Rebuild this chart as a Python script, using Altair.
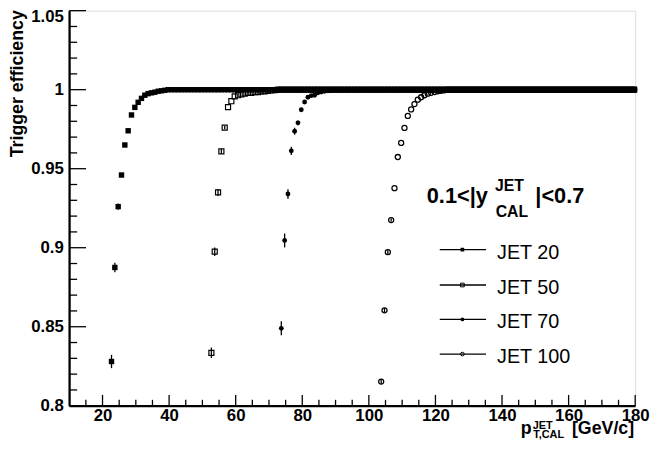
import altair as alt
import pandas as pd

# ---------------- data ----------------
pt_bins = [
    22.7, 23.7, 24.7, 25.7, 26.7, 27.7, 28.7, 29.7, 30.7, 31.7,
    32.7, 33.7, 34.7, 35.7, 36.7, 37.7, 38.7, 39.7, 40.7, 41.7,
    42.7, 43.7, 44.7, 45.7, 46.7, 47.7, 48.7, 49.7, 50.7, 51.7,
    52.7, 53.7, 54.7, 55.7, 56.7, 57.7, 58.7, 59.7, 60.7, 61.7,
    62.7, 63.7, 64.7, 65.7, 66.7, 67.7, 68.7, 69.7, 70.7, 71.7,
    72.7, 73.7, 74.7, 75.7, 76.7, 77.7, 78.7, 79.7, 80.7, 81.7,
    82.7, 83.7, 84.7, 85.7, 86.7, 87.7, 88.7, 89.7, 90.7, 91.7,
    92.7, 93.7, 94.7, 95.7, 96.7, 97.7, 98.7, 99.7, 100.7, 101.7,
    102.7, 103.7, 104.7, 105.7, 106.7, 107.7, 108.7, 109.7, 110.7, 111.7,
    112.7, 113.7, 114.7, 115.7, 116.7, 117.7, 118.7, 119.7, 120.7, 121.7,
    122.7, 123.7, 124.7, 125.7, 126.7, 127.7, 128.7, 129.7, 130.7, 131.7,
    132.7, 133.7, 134.7, 135.7, 136.7, 137.7, 138.7, 139.7, 140.7, 141.7,
    142.7, 143.7, 144.7, 145.7, 146.7, 147.7, 148.7, 149.7, 150.7, 151.7,
    152.7, 153.7, 154.7, 155.7, 156.7, 157.7, 158.7, 159.7, 160.7, 161.7,
    162.7, 163.7, 164.7, 165.7, 166.7, 167.7, 168.7, 169.7, 170.7, 171.7,
    172.7, 173.7, 174.7, 175.7, 176.7, 177.7, 178.7, 179.7,
]

series_names = ["JET 20", "JET 50", "JET 70", "JET 100"]
series_first_bin = [22.7, 52.7, 73.7, 103.7]

jet20_eff = [
    0.828, 0.8875, 0.926, 0.946, 0.965, 0.974, 0.984, 0.9888, 0.992, 0.9945,
    0.9965, 0.9975, 0.998, 0.9984, 0.999, 0.9993, 0.9996,
    1, 1, 1, 1, 1, 1, 1, 1, 1, 1,
    1, 1, 1, 1, 1, 1, 1, 1, 1, 1,
    1, 1, 1, 1, 1, 1, 1, 1, 1, 1,
    1, 1, 1, 1, 1, 1, 1, 1, 1, 1,
    1, 1, 1, 1, 1, 1, 1, 1, 1, 1,
    1, 1, 1, 1, 1, 1, 1, 1, 1, 1,
    1, 1, 1, 1, 1, 1, 1, 1, 1, 1,
    1, 1, 1, 1, 1, 1, 1, 1, 1, 1,
    1, 1, 1, 1, 1, 1, 1, 1, 1, 1,
    1, 1, 1, 1, 1, 1, 1, 1, 1, 1,
    1, 1, 1, 1, 1, 1, 1, 1, 1, 1,
    1, 1, 1, 1, 1, 1, 1, 1, 1, 1,
    1, 1, 1, 1, 1, 1, 1, 1, 1, 1,
    1, 1, 1, 1, 1, 1, 1, 1, 1, 1,
    1,
]
jet20_err = [0.0042, 0.003, 0.002, 0.0012, 0.001, 0.0008]

jet50_eff = [
    0.8335, 0.8975, 0.935, 0.961, 0.976, 0.989, 0.9927, 0.9958, 0.9965, 0.997,
    0.9975, 0.998, 0.998, 0.9985, 0.9985, 0.999, 0.999, 0.9993, 0.9995, 0.9997,
    1, 1, 1, 1, 1, 1, 1, 1, 1, 1,
    1, 1, 1, 1, 1, 1, 1, 1, 1, 1,
    1, 1, 1, 1, 1, 1, 1, 1, 1, 1,
    1, 1, 1, 1, 1, 1, 1, 1, 1, 1,
    1, 1, 1, 1, 1, 1, 1, 1, 1, 1,
    1, 1, 1, 1, 1, 1, 1, 1, 1, 1,
    1, 1, 1, 1, 1, 1, 1, 1, 1, 1,
    1, 1, 1, 1, 1, 1, 1, 1, 1, 1,
    1, 1, 1, 1, 1, 1, 1, 1, 1, 1,
    1, 1, 1, 1, 1, 1, 1, 1, 1, 1,
    1, 1, 1, 1, 1, 1, 1, 1,
]
jet50_err = [0.0033, 0.0027, 0.0022, 0.0014, 0.001]

jet70_eff = [
    0.849, 0.9046, 0.934, 0.9613, 0.9737, 0.979, 0.9873, 0.9922, 0.9952, 0.9962,
    0.9965, 0.998, 0.9985, 0.999, 0.9993, 0.9995,
    1, 1, 1, 1, 1, 1, 1, 1, 1, 1,
    1, 1, 1, 1, 1, 1, 1, 1, 1, 1,
    1, 1, 1, 1, 1, 1, 1, 1, 1, 1,
    1, 1, 1, 1, 1, 1, 1, 1, 1, 1,
    1, 1, 1, 1, 1, 1, 1, 1, 1, 1,
    1, 1, 1, 1, 1, 1, 1, 1, 1, 1,
    1, 1, 1, 1, 1, 1, 1, 1, 1, 1,
    1, 1, 1, 1, 1, 1, 1, 1, 1, 1,
    1, 1, 1, 1, 1, 1, 1, 1, 1, 1,
    1,
]
jet70_err = [0.0044, 0.0044, 0.003, 0.0026, 0.0022, 0.0015]

jet100_eff = [
    0.8153, 0.8604, 0.8972, 0.9175, 0.9377, 0.9574, 0.9663, 0.9758, 0.9834, 0.9875,
    0.9909, 0.9937, 0.9952, 0.9965, 0.9975, 0.998, 0.9985, 0.999, 0.9993, 0.9996,
    1, 1, 1, 1, 1, 1, 1, 1, 1, 1,
    1, 1, 1, 1, 1, 1, 1, 1, 1, 1,
    1, 1, 1, 1, 1, 1, 1, 1, 1, 1,
    1, 1, 1, 1, 1, 1, 1, 1, 1, 1,
    1, 1, 1, 1, 1, 1, 1, 1, 1, 1,
    1, 1, 1, 1, 1, 1, 1,
]
jet100_err = [0.0015, 0.0014, 0.0012, 0.001]

x_major_ticks = [20, 40, 60, 80, 100, 120, 140, 160, 180]
x_minor_ticks = [15, 25, 30, 35, 45, 50, 55, 65, 70, 75, 85, 90, 95, 105, 110,
                 115, 125, 130, 135, 145, 150, 155, 165, 170, 175]
y_major_ticks = [0.8, 0.85, 0.9, 0.95, 1.0, 1.05]
y_minor_ticks = [0.81, 0.82, 0.83, 0.84, 0.86, 0.87, 0.88, 0.89, 0.91, 0.92,
                 0.93, 0.94, 0.96, 0.97, 0.98, 0.99, 1.01, 1.02, 1.03, 1.04]

# legend (in data coordinates)
legend_line_x = [121.3, 135.2]
legend_marker_x = 128.1
legend_text_x = 138.5
legend_line_y = [0.8988, 0.8764, 0.8546, 0.8327]
legend_text_y = [0.8931, 0.8708, 0.8489, 0.8271]

# annotations: header and x-axis title pieces (data coordinates)
annot_text = ["0.1<|y", "JET", "CAL", "|<0.7", "p", "JET", "T,CAL", "[GeV/c]"]
annot_x = [117.4, 137.9, 138.1, 150.0, 145.6, 149.2, 149.4, 161.0]
annot_y = [0.9281, 0.9358, 0.9196, 0.9281, 0.7819, 0.7856, 0.7794, 0.7819]
annot_size = [22, 16, 16, 22, 18, 11, 11, 18]

# ---------------- geometry ----------------
W, H = 573, 400
X0, X1, Y0, Y1 = 10, 180, 0.8, 1.05
FONT = "Liberation Sans"
px_x = (X1 - X0) / W
px_y = (Y1 - Y0) / H

# ---------------- build tables ----------------
all_eff = [jet20_eff, jet50_eff, jet70_eff, jet100_eff]
all_err = [jet20_err, jet50_err, jet70_err, jet100_err]
rows = []
for name, first, effs, errs in zip(series_names, series_first_bin, all_eff, all_err):
    start = pt_bins.index(first)
    for i, e in enumerate(effs):
        j = start + i
        if j >= len(pt_bins):
            break
        err = errs[i] if i < len(errs) else 0.0
        rows.append({"series": name, "pt": pt_bins[j], "eff": e,
                     "lo": e - err, "hi": e + err, "err": err})
df = pd.DataFrame(rows)

# vertical segments: error bars + x-axis inward ticks + left frame line
vrows = [{"pt": r["pt"], "lo": r["lo"], "hi": r["hi"]} for r in rows if r["err"] > 0]
for v in x_major_ticks:
    vrows.append({"pt": float(v), "lo": Y0, "hi": Y0 + 11 * px_y})
for v in x_minor_ticks:
    vrows.append({"pt": float(v), "lo": Y0, "hi": Y0 + 6 * px_y})
vrows.append({"pt": float(X0), "lo": Y0, "hi": Y1})
vseg_df = pd.DataFrame(vrows)

# horizontal segments: legend lines + y-axis inward ticks + bottom frame line
hrows = [{"x1": legend_line_x[0], "x2": legend_line_x[1], "yl": y} for y in legend_line_y]
for v in y_major_ticks:
    hrows.append({"x1": float(X0), "x2": X0 + 17 * px_x, "yl": v})
for v in y_minor_ticks:
    hrows.append({"x1": float(X0), "x2": X0 + 8 * px_x, "yl": v})
hrows.append({"x1": float(X0), "x2": float(X1), "yl": Y0})
hseg_df = pd.DataFrame(hrows)

leg_df = pd.DataFrame({
    "series": series_names,
    "xm": [legend_marker_x] * 4,
    "xt": [legend_text_x] * 4,
    "yl": legend_line_y,
    "yt": legend_text_y,
})
annot_df = pd.DataFrame({"t": annot_text, "x": annot_x, "y": annot_y, "s": annot_size})

xscale = alt.Scale(domain=[X0, X1], nice=False, zero=False)
yscale = alt.Scale(domain=[Y0, Y1], nice=False, zero=False)
xaxis = alt.Axis(values=x_major_ticks, format="d", title=None, grid=False,
                 ticks=False, tickSize=0, labelFont=FONT, labelFontSize=17,
                 labelFontWeight="bold", labelColor="black", labelPadding=2,
                 labelFlush=False, labelOverlap=False, domainColor="black",
                 domainWidth=2)
yaxis = alt.Axis(values=y_major_ticks, format="~g", title="Trigger efficiency",
                 grid=False, ticks=False, tickSize=0, labelFont=FONT,
                 labelFontSize=17, labelFontWeight="bold", labelColor="black",
                 labelPadding=6, labelOverlap=False, labelFlush=False,
                 labelOffset={"condition": {"test": "datum.value > 1.04", "value": 6}, "value": 0},
                 domainColor="black", domainWidth=2,
                 titleFont=FONT, titleFontSize=18, titleFontWeight="bold",
                 titleColor="black", titleAngle=270, titleAlign="right",
                 titleBaseline="alphabetic", titleX=-47, titleY=-1)


def X(f):
    return alt.X(f, type="quantitative", scale=xscale, axis=xaxis)


def Y(f):
    return alt.Y(f, type="quantitative", scale=yscale, axis=yaxis)


vsegs = alt.Chart(vseg_df).mark_rule(color="black", strokeWidth=1.3).encode(
    x=X("pt"), y=Y("lo"), y2="hi")
hsegs = alt.Chart(hseg_df).mark_rule(color="black", strokeWidth=1.3).encode(
    x=X("x1"), x2="x2", y=Y("yl"))

marker_style = {
    "JET 20": dict(shape="square", filled=True, size=30, color="black", opacity=1),
    "JET 50": dict(shape="square", filled=False, size=26, color="black", strokeWidth=1.2, opacity=1),
    "JET 70": dict(shape="circle", filled=True, size=24, color="black", opacity=1),
    "JET 100": dict(shape="circle", filled=False, size=26, color="black", strokeWidth=1.3, opacity=1),
}
legend_marker_style = {
    "JET 20": dict(shape="square", filled=True, size=14, color="black", opacity=1),
    "JET 50": dict(shape="square", filled=False, size=14, color="black", strokeWidth=1, opacity=1),
    "JET 70": dict(shape="circle", filled=True, size=14, color="black", opacity=1),
    "JET 100": dict(shape="circle", filled=False, size=14, color="black", strokeWidth=1, opacity=1),
}

point_layers = []
for name in series_names:
    point_layers.append(
        alt.Chart(df[df["series"] == name]).mark_point(**marker_style[name]).encode(
            x=X("pt"), y=Y("eff")))

leg_markers = []
for name in series_names:
    leg_markers.append(
        alt.Chart(leg_df[leg_df["series"] == name]).mark_point(**legend_marker_style[name]).encode(
            x=X("xm"), y=Y("yl")))
leg_text = alt.Chart(leg_df).mark_text(font=FONT, fontSize=20, align="left",
                                       baseline="alphabetic", color="black").encode(
    x=X("xt"), y=Y("yt"), text="series")

annot = alt.Chart(annot_df).mark_text(font=FONT, fontWeight="bold", align="left",
                                      baseline="alphabetic", color="black").encode(
    x=X("x"), y=Y("y"), text="t", size=alt.Size("s:Q", scale=None, legend=None))

chart = alt.layer(
    vsegs, hsegs, *point_layers, *leg_markers, leg_text, annot,
).properties(
    width=W, height=H,
    autosize=alt.AutoSizeParams(type="none"),
    padding={"left": 62, "top": 0, "right": 15, "bottom": 34},
).configure_view(
    stroke="#222", strokeWidth=1.2
).configure(background="white")

chart.save("out.html", embed_options={"renderer": "svg", "actions": False})
